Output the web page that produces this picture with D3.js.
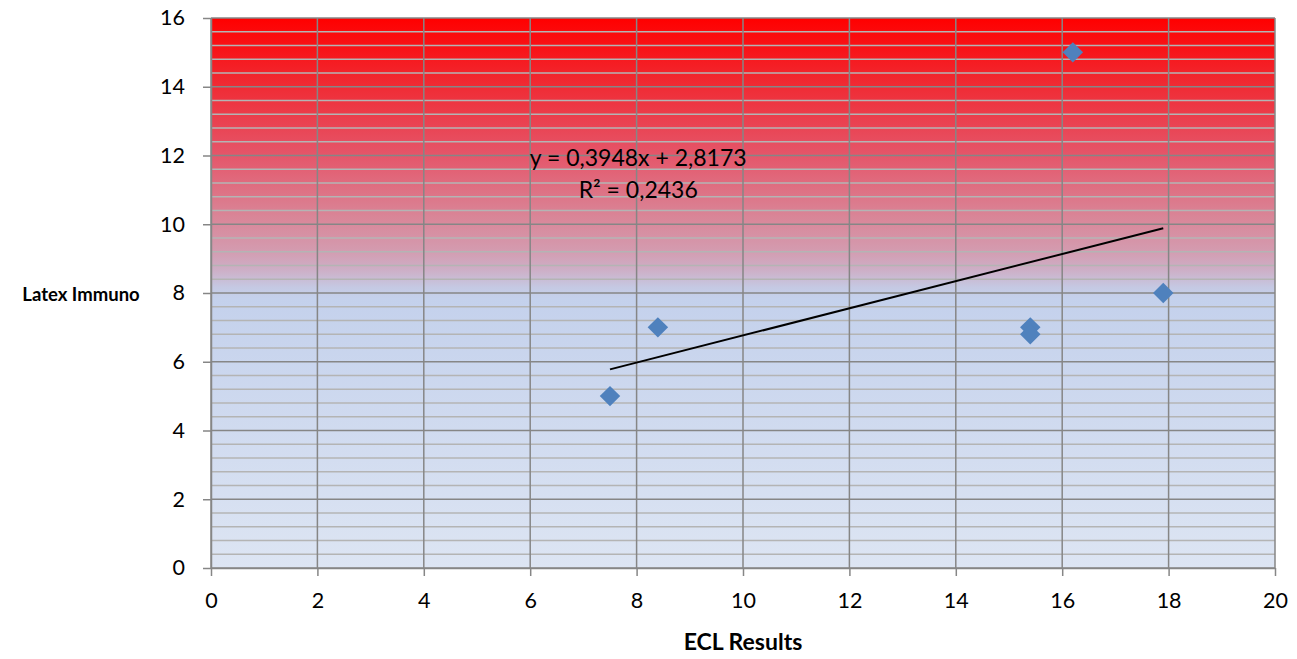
<!DOCTYPE html>
<html>
<head>
<meta charset="utf-8">
<script src="https://cdn.jsdelivr.net/npm/d3@7"></script>
<style>
  body { margin: 0; background: #fff; }
  svg { font-family: Lato, "Open Sans", sans-serif; }
</style>
</head>
<body>
<div id="chart"></div>
<script>
// ECL vs Latex Immuno
const eclValues = [7.5, 8.4, 15.4, 15.4, 16.2, 17.9];
const latexValues = [5, 7, 7, 6.8, 15, 8];
const xTicks = [0, 2, 4, 6, 8, 10, 12, 14, 16, 18, 20];
const yTicks = [0, 2, 4, 6, 8, 10, 12, 14, 16];
const slope = 0.3948;
const intercept = 2.8173;
const rSquared = '0,2436';

const width = 1297, height = 659;
const margin = {top: 18, right: 22, bottom: 91, left: 211};
const innerW = width - margin.left - margin.right;
const innerH = height - margin.top - margin.bottom;

const svg = d3.select('#chart').append('svg')
    .attr('width', width)
    .attr('height', height);

const defs = svg.append('defs');
const grad = defs.append('linearGradient')
    .attr('id', 'bg').attr('x1', 0).attr('y1', 0).attr('x2', 0).attr('y2', 1);
[[0, '#ff0000'], [0.12, '#f02a33'], [0.25, '#e5566a'], [0.36, '#d98597'],
 [0.42, '#d49aae'], [0.46, '#cdb0c8'], [0.49, '#c5c9e3'], [0.51, '#c4d1ec'], [1, '#dde5f3']]
    .forEach(s => grad.append('stop').attr('offset', s[0]).attr('stop-color', s[1]));

const chart = svg.append('g')
    .attr('transform', `translate(${margin.left},${margin.top})`);

const xScale = d3.scaleLinear().domain([0, 20]).range([0, innerW]);
const yScale = d3.scaleLinear().domain([0, 16]).range([innerH, 0]);

chart.append('rect')
    .attr('width', innerW).attr('height', innerH)
    .attr('fill', 'url(#bg)');

// minor horizontal gridlines
const minor = d3.range(0, 16.001, 0.4).filter(v => Math.abs(v / 2 - Math.round(v / 2)) > 1e-6);
chart.append('g').selectAll('line')
    .data(minor)
    .join('line')
    .attr('x1', 0).attr('x2', innerW)
    .attr('y1', d => yScale(d)).attr('y2', d => yScale(d))
    .attr('stroke', '#b4b4b4').attr('stroke-width', 1.3);

// major gridlines
chart.append('g').selectAll('line')
    .data(yTicks)
    .join('line')
    .attr('x1', 0).attr('x2', innerW)
    .attr('y1', d => yScale(d)).attr('y2', d => yScale(d))
    .attr('stroke', '#868686').attr('stroke-width', 1.5);
chart.append('g').selectAll('line')
    .data(xTicks)
    .join('line')
    .attr('x1', d => xScale(d)).attr('x2', d => xScale(d))
    .attr('y1', 0).attr('y2', innerH)
    .attr('stroke', '#868686').attr('stroke-width', 1.5);

const xAxis = d3.axisBottom(xScale).tickValues(xTicks).tickSize(8).tickSizeOuter(0).tickPadding(17);
const yAxis = d3.axisLeft(yScale).tickValues(yTicks).tickSize(8).tickSizeOuter(0).tickPadding(18);

const xAxisG = chart.append('g').attr('transform', `translate(0,${innerH})`).call(xAxis);
const yAxisG = chart.append('g').call(yAxis);
[xAxisG, yAxisG].forEach(g => {
    g.attr('font-family', null).attr('font-size', null);
    g.select('.domain').attr('stroke', '#868686').attr('stroke-width', 1.5);
    g.selectAll('.tick line').attr('stroke', '#868686').attr('stroke-width', 1.5);
    g.selectAll('.tick text').attr('font-size', 21.5).attr('fill', '#000');
});

// trendline
const xMin = d3.min(eclValues), xMax = d3.max(eclValues);
chart.append('line')
    .attr('x1', xScale(xMin)).attr('y1', yScale(slope * xMin + intercept))
    .attr('x2', xScale(xMax)).attr('y2', yScale(slope * xMax + intercept))
    .attr('stroke', '#000').attr('stroke-width', 2);

// points
const points = eclValues.map((x, i) => ({x: x, y: latexValues[i]}));
chart.selectAll('.point')
    .data(points)
    .join('path')
    .attr('class', 'point')
    .attr('d', d3.symbol(d3.symbolSquare, 210))
    .attr('transform', d => `translate(${xScale(d.x)},${yScale(d.y)}) rotate(45)`)
    .attr('fill', '#4f81bd');

// equation label
chart.append('text')
    .attr('x', xScale(8.03)).attr('y', yScale(11.69))
    .attr('text-anchor', 'middle')
    .style('font-size', '23px')
    .text('y = 0,3948x + 2,8173');
chart.append('text')
    .attr('x', xScale(8.03)).attr('y', yScale(10.76))
    .attr('text-anchor', 'middle')
    .style('font-size', '23px')
    .text('R² = ' + rSquared);

// axis titles
svg.append('text')
    .attr('x', 743).attr('y', 650)
    .attr('text-anchor', 'middle')
    .style('font-size', '23px').style('font-weight', 'bold')
    .text('ECL Results');
svg.append('text')
    .attr('x', 81).attr('y', 301)
    .attr('text-anchor', 'middle')
    .style('font-size', '18.5px').style('font-weight', 'bold')
    .text('Latex  Immuno');
</script>
</body>
</html>
